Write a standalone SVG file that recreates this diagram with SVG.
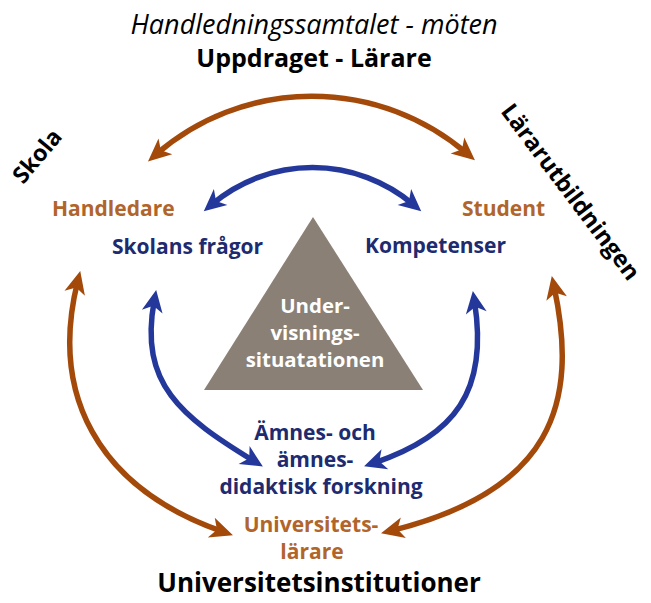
<svg xmlns="http://www.w3.org/2000/svg" width="651" height="603" viewBox="0 0 651 603">
<defs>
<style>
text{font-family:"Open Sans","Noto Sans","Liberation Sans",sans-serif;font-weight:bold}
.blk{fill:#000}
.brn{fill:#b1652b;font-size:21px}
.nav{fill:#202a6f;font-size:21px}
.wht{fill:#fff;font-size:20.4px}
.mid{text-anchor:middle}
.ab{fill:none;stroke:#a34a0b;stroke-width:5.5}
.ablu{fill:none;stroke:#24389b;stroke-width:5.5}
</style>
<marker id="hb" markerUnits="userSpaceOnUse" markerWidth="30" markerHeight="30" refX="0" refY="0" orient="auto-start-reverse" overflow="visible">
<path d="M11,0 L-12,-10.5 L-6,0 L-12,10.5 Z" fill="#a34a0b"/>
</marker>
<marker id="hl" markerUnits="userSpaceOnUse" markerWidth="30" markerHeight="30" refX="0" refY="0" orient="auto-start-reverse" overflow="visible">
<path d="M11,0 L-11,-10.5 L-5,0 L-11,10.5 Z" fill="#24389b"/>
</marker>
</defs>
<rect width="651" height="603" fill="#fff"/>
<g id="connectors">
<path class="ab" d="M156.3,154.2 A238,238 0 0 1 466.6,153.2" marker-start="url(#hb)" marker-end="url(#hb)"/>
<path class="ablu" d="M212.2,204.1 A156,156 0 0 1 412.8,204.1" marker-start="url(#hl)" marker-end="url(#hl)"/>
<path class="ab" d="M77.6,281.7 C50,393 95.7,487 222.6,531.7" marker-start="url(#hb)" marker-end="url(#hb)"/>
<path class="ablu" d="M154.2,300.8 C138.9,384.1 181.25,416.6 253.5,460.8" marker-start="url(#hl)" marker-end="url(#hl)"/>
<path class="ablu" d="M474.55,301.9 C488.5,391 455.25,435.6 374.5,462.8" marker-start="url(#hl)" marker-end="url(#hl)"/>
<path class="ab" d="M554.1,286.8 C579.3,404.4 551.75,491 391.7,530.6" marker-start="url(#hb)" marker-end="url(#hb)"/>
</g>
<g id="title">
<text class="blk mid" x="314" y="34" style="font-style:italic;font-weight:normal;font-size:27px">Handledningssamtalet - möten</text>
<text class="blk mid" x="314" y="67" style="font-size:25px">Uppdraget - Lärare</text>
</g>
<g id="skola"><text class="blk mid" transform="translate(37,156) rotate(-50)" y="8" style="font-size:23px">Skola</text></g>
<g id="lararutbildningen"><text class="blk mid" transform="translate(570.5,192) rotate(53)" y="8" style="font-size:23.5px">Lärarutbildningen</text></g>
<g id="handledare"><text class="brn" x="52" y="216">Handledare</text></g>
<g id="student"><text class="brn" x="462" y="216">Student</text></g>
<g id="skolans-fragor"><text class="nav" x="112" y="254">Skolans frågor</text></g>
<g id="kompetenser"><text class="nav" x="365" y="253">Kompetenser</text></g>
<g id="undervisning">
<polygon points="313,217 204,390 423,390" fill="#8a8075"/>
<text class="wht mid"><tspan x="315" y="313">Under-</tspan><tspan x="315" y="340">visnings-</tspan><tspan x="315" y="367">situatationen</tspan></text>
</g>
<g id="forskning">
<text class="nav mid"><tspan x="315" y="440">Ämnes- och</tspan><tspan x="315" y="467">ämnes-</tspan><tspan x="321" y="494">didaktisk forskning</tspan></text>
</g>
<g id="universitetslarare">
<text class="brn mid"><tspan x="311" y="532">Universitets-</tspan><tspan x="312" y="559">lärare</tspan></text>
</g>
<g id="universitetsinstitutioner"><text class="blk mid" x="319" y="592" style="font-size:26px">Universitetsinstitutioner</text></g>
</svg>
